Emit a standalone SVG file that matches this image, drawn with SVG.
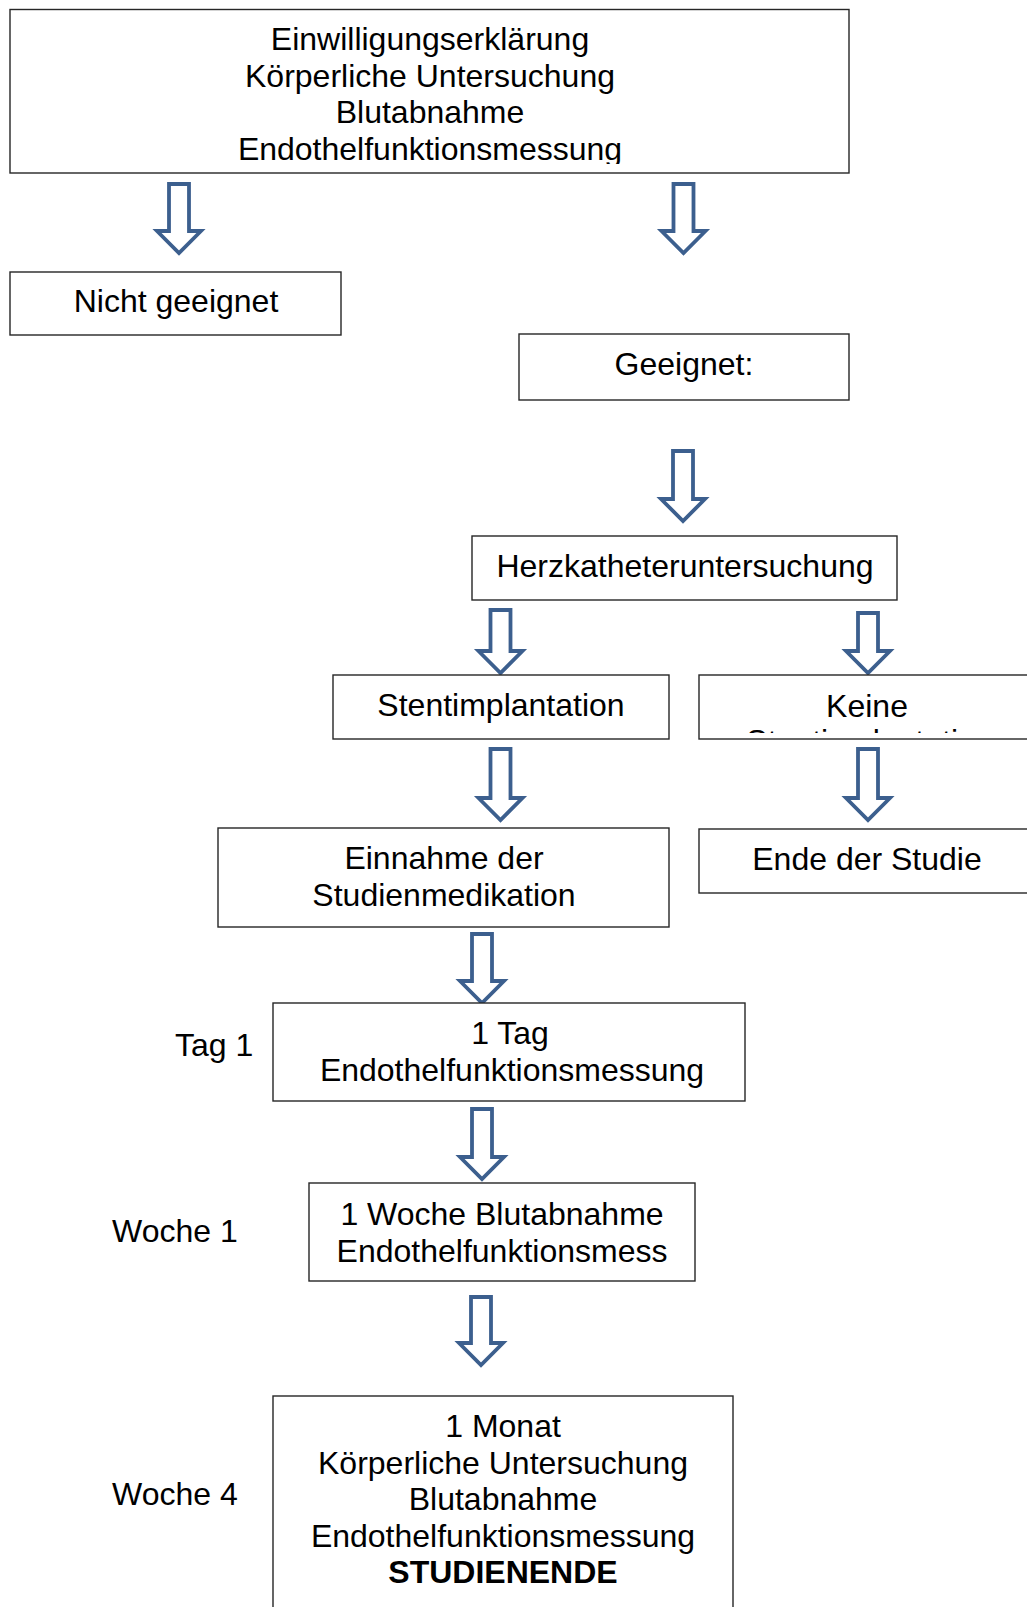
<svg xmlns="http://www.w3.org/2000/svg" width="1027" height="1607" viewBox="0 0 1027 1607">
<defs>
<style>
.box{fill:#fff;stroke:#262626;stroke-width:1.4}
.t{font-family:"Liberation Sans",Arial,sans-serif;font-size:32px;fill:#000;text-anchor:middle}
.l{font-family:"Liberation Sans",Arial,sans-serif;font-size:32px;fill:#000}
.b{font-weight:bold}
.arr{fill:#fff;stroke:#3c5f8e;stroke-width:3.8;stroke-linejoin:miter}
</style>
<clipPath id="clipTop"><rect x="10" y="10" width="840" height="154"/></clipPath>
<clipPath id="clipKeine"><rect x="699" y="675" width="340" height="58"/></clipPath>
</defs>
<rect width="1027" height="1607" fill="#fff"/>

<g id="connectors">
<path class="arr" d="M169,184 H189 V231 H201 L179,253 L157,231 H169 Z"/>
<path class="arr" d="M673.5,184 H693.5 V231 H705.5 L683.5,253 L661.5,231 H673.5 Z"/>
<path class="arr" d="M673,451 H693 V499 H705 L683,521 L661,499 H673 Z"/>
<path class="arr" d="M490.5,610 H510.5 V651 H522.5 L500.5,673 L478.5,651 H490.5 Z"/>
<path class="arr" d="M858,613 H878 V651 H890 L868,673 L846,651 H858 Z"/>
<path class="arr" d="M490.5,749 H510.5 V798 H522.5 L500.5,820 L478.5,798 H490.5 Z"/>
<path class="arr" d="M858,749 H878 V798 H890 L868,820 L846,798 H858 Z"/>
<path class="arr" d="M472,934 H492 V981 H504 L482,1003 L460,981 H472 Z"/>
<path class="arr" d="M472,1109 H492 V1157 H504 L482,1179 L460,1157 H472 Z"/>
<path class="arr" d="M471,1297 H491 V1343 H503 L481,1365 L459,1343 H471 Z"/>
</g>

<g id="n-start">
<rect class="box" x="10" y="9.5" width="839" height="163.5"/>
<g clip-path="url(#clipTop)">
<text class="t" x="430" y="49.5">Einwilligungserklärung</text>
<text class="t" x="430" y="86.5">Körperliche Untersuchung</text>
<text class="t" x="430" y="123">Blutabnahme</text>
<text class="t" x="430" y="159.5">Endothelfunktionsmessung</text>
</g>
</g>

<g id="n-nicht">
<rect class="box" x="10" y="272" width="331" height="63"/>
<text class="t" x="176" y="312">Nicht geeignet</text>
</g>

<g id="n-geeignet">
<rect class="box" x="519" y="334" width="330" height="66"/>
<text class="t" x="684" y="375">Geeignet:</text>
</g>

<g id="n-herz">
<rect class="box" x="472" y="536" width="425" height="64"/>
<text class="t" x="685" y="577">Herzkatheteruntersuchung</text>
</g>

<g id="n-stent">
<rect class="box" x="333" y="675" width="336" height="64"/>
<text class="t" x="501" y="716">Stentimplantation</text>
</g>

<g id="n-keine">
<rect class="box" x="699" y="675" width="340" height="64"/>
<g clip-path="url(#clipKeine)">
<text class="t" x="867" y="716.5">Keine</text>
<text class="t" x="870" y="752">Stentimplantation</text>
</g>
</g>

<g id="n-einnahme">
<rect class="box" x="218" y="828" width="451" height="99"/>
<text class="t" x="444" y="869">Einnahme der</text>
<text class="t" x="444" y="906">Studienmedikation</text>
</g>

<g id="n-ende">
<rect class="box" x="699" y="829" width="340" height="64"/>
<text class="t" x="867" y="870">Ende der Studie</text>
</g>

<g id="n-tag">
<rect class="box" x="273" y="1003" width="472" height="98"/>
<text class="t" x="510" y="1044">1 Tag</text>
<text class="t" x="512" y="1081">Endothelfunktionsmessung</text>
</g>

<g id="n-woche">
<rect class="box" x="309" y="1183" width="386" height="98"/>
<text class="t" x="502" y="1224.5">1 Woche Blutabnahme</text>
<text class="t" x="502" y="1261.5">Endothelfunktionsmess</text>
</g>

<g id="n-monat">
<rect class="box" x="273" y="1396" width="460" height="220"/>
<text class="t" x="503" y="1437">1 Monat</text>
<text class="t" x="503" y="1473.5">Körperliche Untersuchung</text>
<text class="t" x="503" y="1510">Blutabnahme</text>
<text class="t" x="503" y="1546.5">Endothelfunktionsmessung</text>
<text class="t b" x="503" y="1583">STUDIENENDE</text>
</g>

<g id="labels">
<text class="l" x="175" y="1056">Tag 1</text>
<text class="l" x="112" y="1242">Woche 1</text>
<text class="l" x="112" y="1505">Woche 4</text>
</g>
</svg>
